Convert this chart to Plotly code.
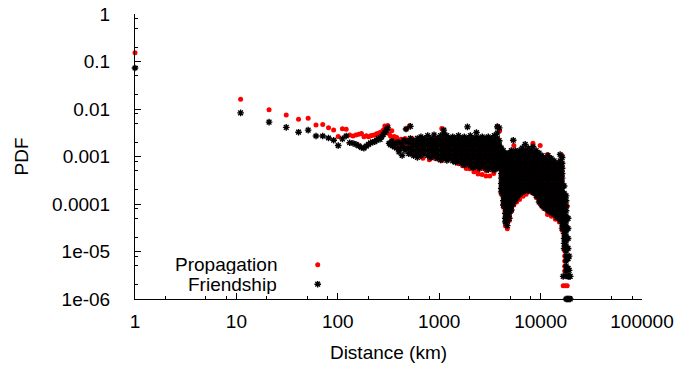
import plotly.graph_objects as go

# ---------------- data ----------------
# sparse region: one point per 10 km bin
prop_km = [1, 11, 21, 31, 41, 51, 61, 71, 81, 91, 101, 111, 121, 131, 141, 151, 161, 171, 181, 191,
           201, 211, 221, 231, 241, 251, 261, 271, 281, 291, 301, 311, 321, 331, 341, 351, 361, 371,
           381, 391, 401, 411, 421, 431, 441, 451, 461, 471, 481, 491, 501, 511]
prop_pdf = [0.153, 0.0161, 9.6e-3, 7.5e-3, 6.1e-3, 6.4e-3, 4.6e-3, 4.7e-3, 4.05e-3, 3.6e-3, 2.65e-3,
            3.85e-3, 3.75e-3, 2.85e-3, 2.7e-3, 2.85e-3, 2.95e-3, 3.05e-3, 2.6e-3, 2.75e-3, 2.6e-3,
            2.75e-3, 2.8e-3, 2.85e-3, 3.0e-3, 3.05e-3, 3.2e-3, 3.3e-3, 3.6e-3, 4.4e-3, 3.9e-3, 4.5e-3,
            3.0e-3, 2.7e-3, 3.5e-3, 2.4e-3, 2.65e-3, 2.2e-3, 2.5e-3, 2.0e-3, 2.1e-3, 1.8e-3, 2.3e-3,
            1.9e-3, 2.0e-3, 1.7e-3, 2.4e-3, 3.75e-3, 2.2e-3, 1.9e-3, 2.1e-3, 4.45e-3]

friend_km = [1, 11, 21, 31, 41, 51, 61, 71, 81, 91, 101, 111, 121, 131, 141, 151, 161, 171, 181, 191,
             201, 211, 221, 231, 241, 251, 261, 271, 281, 291, 301, 311, 321, 331, 341, 351, 361, 371,
             381, 391, 401, 411, 421, 431, 441, 451, 461, 471, 481, 491, 501]
friend_pdf = [0.073, 8.3e-3, 5.3e-3, 4.1e-3, 3.25e-3, 3.6e-3, 2.7e-3, 2.7e-3, 2.45e-3, 2.2e-3, 1.7e-3,
              2.35e-3, 2.7e-3, 1.95e-3, 1.9e-3, 1.8e-3, 1.68e-3, 1.55e-3, 1.5e-3, 1.65e-3, 1.8e-3,
              1.95e-3, 2.0e-3, 2.05e-3, 2.2e-3, 2.4e-3, 2.3e-3, 2.6e-3, 2.9e-3, 3.2e-3, 3.6e-3, 4.0e-3,
              1.9e-3, 1.75e-3, 2.1e-3, 1.7e-3, 1.6e-3, 1.85e-3, 1.5e-3, 2.0e-3, 1.25e-3, 1.45e-3,
              1.9e-3, 1.05e-3, 1.6e-3, 2.2e-3, 1.35e-3, 3.8e-3, 2.0e-3, 1.5e-3, 1.15e-3]

# dense region: for each distance, the spread of PDF values seen there
prop_band_km = [540, 600, 690, 800, 920, 1060, 1150, 1230, 1400, 1550, 1700, 1850, 2000, 2200, 2420,
                2650, 2900, 3150, 3450, 3750, 3950, 4100, 4300, 4500, 4700, 4920, 5150, 5450, 5800,
                6200, 6700, 7200, 7800, 8400, 9100, 9900, 10700, 11700, 12800, 14000, 15300, 16300,
                17300, 18300, 16700, 17450]
prop_band_pdf = [
    [2.4e-3, 1.9e-3, 1.5e-3, 1.18e-3],
    [2.15e-3, 1.7e-3, 1.33e-3, 1.04e-3],
    [2.4e-3, 1.9e-3, 1.5e-3, 1.18e-3, 9.2e-4],
    [2.15e-3, 1.7e-3, 1.33e-3, 1.04e-3, 8.5e-4],
    [2.4e-3, 1.9e-3, 1.5e-3, 1.18e-3, 9.0e-4],
    [3.9e-3, 2.15e-3, 1.7e-3, 1.33e-3, 1.04e-3, 8.1e-4],
    [1.5e-3, 1.18e-3, 9.2e-4],
    [2.4e-3, 1.9e-3, 1.5e-3, 1.18e-3, 8.6e-4],
    [2.15e-3, 1.7e-3, 1.33e-3, 1.04e-3, 8.1e-4],
    [2.4e-3, 1.9e-3, 1.5e-3, 1.18e-3, 8.5e-4, 7.0e-4],
    [2.15e-3, 1.7e-3, 1.33e-3, 1.04e-3, 8.1e-4, 6.35e-4],
    [2.4e-3, 1.9e-3, 1.5e-3, 1.18e-3, 9.2e-4, 7.2e-4, 5.6e-4],
    [2.15e-3, 1.7e-3, 1.33e-3, 1.04e-3, 8.1e-4, 6.35e-4, 5.5e-4],
    [2.4e-3, 1.9e-3, 1.5e-3, 1.18e-3, 9.2e-4, 7.2e-4, 5.65e-4, 4.8e-4],
    [2.15e-3, 1.7e-3, 1.33e-3, 1.04e-3, 8.1e-4, 6.35e-4, 5.0e-4, 4.3e-4],
    [2.4e-3, 1.9e-3, 1.5e-3, 1.18e-3, 9.2e-4, 7.2e-4, 5.65e-4, 4.2e-4],
    [2.15e-3, 1.7e-3, 1.33e-3, 1.04e-3, 8.1e-4, 6.35e-4, 5.0e-4, 3.9e-4],
    [2.4e-3, 1.9e-3, 1.5e-3, 1.18e-3, 9.2e-4, 7.2e-4, 5.65e-4, 3.9e-4],
    [2.15e-3, 1.7e-3, 1.33e-3, 1.04e-3, 8.1e-4, 6.35e-4, 5.0e-4, 4.4e-4],
    [4.4e-3, 2.4e-3, 1.9e-3, 1.5e-3, 1.18e-3, 9.2e-4, 7.2e-4, 5.6e-4],
    [3.5e-3, 1.7e-3, 1.33e-3, 1.04e-3, 8.1e-4],
    [1.33e-3, 1.04e-3, 8.1e-4, 6.35e-4, 5.0e-4, 3.9e-4, 3.1e-4, 2.4e-4, 1.9e-4, 1.6e-4],
    [1.18e-3, 9.2e-4, 7.2e-4, 5.65e-4, 4.4e-4, 3.5e-4, 2.7e-4, 2.15e-4, 1.68e-4, 1.32e-4, 1.03e-4, 8.5e-5],
    [1.04e-3, 8.1e-4, 6.35e-4, 5.0e-4, 3.9e-4, 3.1e-4, 2.4e-4, 1.9e-4, 1.48e-4, 1.17e-4, 9.1e-5, 7.2e-5,
     5.6e-5, 4.4e-5, 3.5e-5],
    [9.2e-4, 7.2e-4, 5.65e-4, 4.4e-4, 3.5e-4, 2.7e-4, 2.15e-4, 1.68e-4, 1.32e-4, 1.03e-4, 8.1e-5, 6.4e-5,
     5.0e-5, 3.9e-5, 3.0e-5],
    [1.04e-3, 8.1e-4, 6.35e-4, 5.0e-4, 3.9e-4, 3.1e-4, 2.4e-4, 1.9e-4, 1.48e-4, 1.17e-4, 9.1e-5, 7.2e-5,
     5.6e-5, 4.5e-5],
    [1.18e-3, 9.2e-4, 7.2e-4, 5.65e-4, 4.4e-4, 3.5e-4, 2.7e-4, 2.15e-4, 1.68e-4, 1.32e-4, 1.03e-4, 8.1e-5, 7.0e-5],
    [1.7e-3, 1.04e-3, 8.1e-4, 6.35e-4, 5.0e-4, 3.9e-4, 3.1e-4, 2.4e-4, 1.9e-4, 1.48e-4, 1.17e-4, 9.5e-5],
    [1.18e-3, 9.2e-4, 7.2e-4, 5.65e-4, 4.4e-4, 3.5e-4, 2.7e-4, 2.15e-4, 1.68e-4, 1.32e-4, 1.1e-4],
    [1.04e-3, 8.1e-4, 6.35e-4, 5.0e-4, 3.9e-4, 3.1e-4, 2.4e-4, 1.9e-4, 1.48e-4, 1.25e-4],
    [1.18e-3, 9.2e-4, 7.2e-4, 5.65e-4, 4.4e-4, 3.5e-4, 2.7e-4, 2.15e-4, 1.7e-4, 1.45e-4],
    [1.04e-3, 8.1e-4, 6.35e-4, 5.0e-4, 3.9e-4, 3.1e-4, 2.4e-4, 1.9e-4, 1.6e-4],
    [1.18e-3, 9.2e-4, 7.2e-4, 5.65e-4, 4.4e-4, 3.5e-4, 2.7e-4, 2.15e-4, 1.8e-4],
    [1.9e-3, 1.04e-3, 8.1e-4, 6.35e-4, 5.0e-4, 3.9e-4, 3.1e-4, 2.4e-4, 1.9e-4, 1.7e-4],
    [1.18e-3, 9.2e-4, 7.2e-4, 5.65e-4, 4.4e-4, 3.5e-4, 2.7e-4, 2.15e-4, 1.68e-4, 1.35e-4],
    [1.7e-3, 8.1e-4, 6.35e-4, 5.0e-4, 3.9e-4, 3.1e-4, 2.4e-4, 1.9e-4, 1.48e-4, 1.17e-4, 1.0e-4],
    [9.2e-4, 7.2e-4, 5.65e-4, 4.4e-4, 3.5e-4, 2.7e-4, 2.15e-4, 1.68e-4, 1.32e-4, 1.03e-4, 8.1e-5],
    [1.1e-3, 8.1e-4, 6.35e-4, 5.0e-4, 3.9e-4, 3.1e-4, 2.4e-4, 1.9e-4, 1.48e-4, 1.17e-4, 9.1e-5, 7.2e-5, 6.0e-5],
    [7.2e-4, 5.65e-4, 4.4e-4, 3.5e-4, 2.7e-4, 2.15e-4, 1.68e-4, 1.32e-4, 1.03e-4, 8.1e-5, 6.4e-5, 5.5e-5],
    [6.35e-4, 5.0e-4, 3.9e-4, 3.1e-4, 2.4e-4, 1.9e-4, 1.48e-4, 1.17e-4, 9.1e-5, 7.2e-5, 5.6e-5, 4.8e-5],
    [7.2e-4, 5.65e-4, 4.4e-4, 3.5e-4, 2.7e-4, 2.15e-4, 1.68e-4, 1.32e-4, 1.03e-4, 8.1e-5, 6.4e-5, 5.0e-5, 4.2e-5],
    [1.05e-3, 6.35e-4, 5.0e-4, 3.9e-4, 3.1e-4, 2.4e-4, 1.9e-4, 1.48e-4, 1.17e-4, 9.1e-5, 7.2e-5, 5.6e-5,
     4.4e-5, 3.5e-5, 2.8e-5],
    [1.5e-4, 1.17e-4, 9.1e-5, 7.2e-5, 5.6e-5, 4.4e-5, 3.45e-5, 2.7e-5, 2.1e-5, 1.67e-5, 1.3e-5, 1.03e-5,
     8.0e-6, 6.3e-6, 4.9e-6, 3.9e-6],
    [9.0e-5, 5.0e-5, 3.05e-5, 1.88e-5, 1.16e-5, 7.1e-6, 4.4e-6, 1.9e-6],
    [1.9e-6],
    [1.9e-6],
]

friend_band_km = [520, 560, 610, 660, 715, 770, 830, 890, 960, 1030, 1110, 1190, 1270, 1360, 1450,
                  1550, 1660, 1770, 1900, 2030, 2170, 2330, 2490, 2660, 2850, 3050, 3270, 3490, 3740,
                  3910, 4090, 4290, 4480, 4690, 4910, 5140, 5375, 5620, 5890, 6160, 6590, 7050, 7550,
                  8080, 8420, 9040, 9660, 10350, 11080, 11860, 12700, 13590, 14550, 15580, 16300,
                  17060, 17850, 18680, 19110, 16700, 18300, 19600]
friend_band_pdf = [
    [4.3e-3, 2.4e-3, 1.9e-3, 1.5e-3, 1.18e-3],
    [2.15e-3, 1.7e-3, 1.33e-3, 1.04e-3],
    [2.4e-3, 1.9e-3, 1.5e-3, 1.18e-3, 9.6e-4],
    [2.6e-3, 2.15e-3, 1.7e-3, 1.33e-3, 1.04e-3],
    [2.4e-3, 1.9e-3, 1.5e-3, 1.18e-3],
    [2.75e-3, 2.15e-3, 1.7e-3, 1.33e-3, 1.04e-3],
    [2.4e-3, 1.9e-3, 1.5e-3, 1.18e-3, 9.5e-4],
    [2.85e-3, 2.15e-3, 1.7e-3, 1.33e-3, 1.04e-3],
    [2.4e-3, 1.9e-3, 1.5e-3, 1.18e-3, 9.2e-4],
    [2.75e-3, 2.15e-3, 1.7e-3, 1.33e-3, 1.04e-3, 8.5e-4],
    [3.6e-3, 3.0e-3, 2.4e-3, 1.9e-3, 1.5e-3, 1.18e-3, 9.2e-4],
    [2.75e-3, 2.15e-3, 1.7e-3, 1.33e-3, 1.04e-3, 8.3e-4],
    [2.4e-3, 1.9e-3, 1.5e-3, 1.18e-3, 9.2e-4],
    [2.6e-3, 2.15e-3, 1.7e-3, 1.33e-3, 1.04e-3, 8.1e-4],
    [2.4e-3, 1.9e-3, 1.5e-3, 1.18e-3, 9.2e-4, 7.6e-4],
    [2.75e-3, 2.15e-3, 1.7e-3, 1.33e-3, 1.04e-3, 8.1e-4],
    [2.4e-3, 1.9e-3, 1.5e-3, 1.18e-3, 9.2e-4, 7.2e-4],
    [2.6e-3, 2.15e-3, 1.7e-3, 1.33e-3, 1.04e-3, 8.1e-4, 6.6e-4],
    [4.2e-3, 2.4e-3, 1.9e-3, 1.5e-3, 1.18e-3, 9.2e-4, 7.2e-4],
    [2.75e-3, 2.15e-3, 1.7e-3, 1.33e-3, 1.04e-3, 8.1e-4, 6.35e-4],
    [2.4e-3, 1.9e-3, 1.5e-3, 1.18e-3, 9.2e-4, 7.2e-4, 5.8e-4],
    [3.2e-3, 2.6e-3, 2.15e-3, 1.7e-3, 1.33e-3, 1.04e-3, 8.1e-4, 6.35e-4],
    [2.4e-3, 1.9e-3, 1.5e-3, 1.18e-3, 9.2e-4, 7.2e-4, 5.65e-4],
    [2.6e-3, 2.15e-3, 1.7e-3, 1.33e-3, 1.04e-3, 8.1e-4, 6.35e-4],
    [2.4e-3, 1.9e-3, 1.5e-3, 1.18e-3, 9.2e-4, 7.2e-4, 5.65e-4],
    [2.6e-3, 2.15e-3, 1.7e-3, 1.33e-3, 1.04e-3, 8.1e-4, 6.35e-4, 5.3e-4],
    [2.4e-3, 1.9e-3, 1.5e-3, 1.18e-3, 9.2e-4, 7.2e-4, 5.65e-4],
    [2.75e-3, 2.15e-3, 1.7e-3, 1.33e-3, 1.04e-3, 8.1e-4, 6.35e-4, 5.2e-4],
    [4.2e-3, 3.1e-3, 2.4e-3, 1.9e-3, 1.5e-3, 1.18e-3, 9.2e-4, 7.2e-4, 5.65e-4],
    [4.0e-3, 2.15e-3, 1.7e-3, 1.33e-3, 1.04e-3, 8.1e-4, 6.35e-4],
    [1.5e-3, 1.18e-3, 9.2e-4, 7.2e-4, 5.65e-4, 4.4e-4, 3.5e-4, 2.7e-4, 2.15e-4, 1.8e-4],
    [1.33e-3, 1.04e-3, 8.1e-4, 6.35e-4, 5.0e-4, 3.9e-4, 3.1e-4, 2.4e-4, 1.9e-4, 1.48e-4, 1.17e-4, 9.5e-5],
    [1.18e-3, 9.2e-4, 7.2e-4, 5.65e-4, 4.4e-4, 3.5e-4, 2.7e-4, 2.15e-4, 1.68e-4, 1.32e-4, 1.03e-4, 8.1e-5,
     6.4e-5, 5.0e-5, 4.2e-5],
    [1.04e-3, 8.1e-4, 6.35e-4, 5.0e-4, 3.9e-4, 3.1e-4, 2.4e-4, 1.9e-4, 1.48e-4, 1.17e-4, 9.1e-5, 7.2e-5,
     5.6e-5, 4.4e-5, 3.5e-5],
    [1.18e-3, 9.2e-4, 7.2e-4, 5.65e-4, 4.4e-4, 3.5e-4, 2.7e-4, 2.15e-4, 1.68e-4, 1.32e-4, 1.03e-4, 8.1e-5,
     6.4e-5, 5.0e-5],
    [1.33e-3, 1.04e-3, 8.1e-4, 6.35e-4, 5.0e-4, 3.9e-4, 3.1e-4, 2.4e-4, 1.9e-4, 1.48e-4, 1.17e-4, 9.1e-5, 7.5e-5],
    [2.2e-3, 1.18e-3, 9.2e-4, 7.2e-4, 5.65e-4, 4.4e-4, 3.5e-4, 2.7e-4, 2.15e-4, 1.68e-4, 1.32e-4, 1.03e-4],
    [1.33e-3, 1.04e-3, 8.1e-4, 6.35e-4, 5.0e-4, 3.9e-4, 3.1e-4, 2.4e-4, 1.9e-4, 1.48e-4, 1.2e-4],
    [1.18e-3, 9.2e-4, 7.2e-4, 5.65e-4, 4.4e-4, 3.5e-4, 2.7e-4, 2.15e-4, 1.68e-4, 1.4e-4],
    [1.33e-3, 1.04e-3, 8.1e-4, 6.35e-4, 5.0e-4, 3.9e-4, 3.1e-4, 2.4e-4, 1.9e-4, 1.6e-4],
    [1.5e-3, 1.18e-3, 9.2e-4, 7.2e-4, 5.65e-4, 4.4e-4, 3.5e-4, 2.7e-4, 2.15e-4, 1.75e-4],
    [1.8e-3, 1.33e-3, 1.04e-3, 8.1e-4, 6.35e-4, 5.0e-4, 3.9e-4, 3.1e-4, 2.4e-4, 1.9e-4],
    [1.5e-3, 1.18e-3, 9.2e-4, 7.2e-4, 5.65e-4, 4.4e-4, 3.5e-4, 2.7e-4, 2.15e-4, 1.9e-4],
    [1.33e-3, 1.04e-3, 8.1e-4, 6.35e-4, 5.0e-4, 3.9e-4, 3.1e-4, 2.4e-4, 1.95e-4],
    [1.6e-3, 1.18e-3, 9.2e-4, 7.2e-4, 5.65e-4, 4.4e-4, 3.5e-4, 2.7e-4, 2.15e-4, 1.75e-4],
    [1.33e-3, 1.04e-3, 8.1e-4, 6.35e-4, 5.0e-4, 3.9e-4, 3.1e-4, 2.4e-4, 1.9e-4, 1.5e-4],
    [1.18e-3, 9.2e-4, 7.2e-4, 5.65e-4, 4.4e-4, 3.5e-4, 2.7e-4, 2.15e-4, 1.68e-4, 1.32e-4, 1.1e-4],
    [1.04e-3, 8.1e-4, 6.35e-4, 5.0e-4, 3.9e-4, 3.1e-4, 2.4e-4, 1.9e-4, 1.48e-4, 1.17e-4, 9.1e-5],
    [9.2e-4, 7.2e-4, 5.65e-4, 4.4e-4, 3.5e-4, 2.7e-4, 2.15e-4, 1.68e-4, 1.32e-4, 1.03e-4, 8.1e-5],
    [1.04e-3, 8.1e-4, 6.35e-4, 5.0e-4, 3.9e-4, 3.1e-4, 2.4e-4, 1.9e-4, 1.48e-4, 1.17e-4, 9.1e-5, 7.2e-5],
    [9.2e-4, 7.2e-4, 5.65e-4, 4.4e-4, 3.5e-4, 2.7e-4, 2.15e-4, 1.68e-4, 1.32e-4, 1.03e-4, 8.1e-5, 6.6e-5],
    [8.1e-4, 6.35e-4, 5.0e-4, 3.9e-4, 3.1e-4, 2.4e-4, 1.9e-4, 1.48e-4, 1.17e-4, 9.1e-5, 7.2e-5, 6.0e-5],
    [7.2e-4, 5.65e-4, 4.4e-4, 3.5e-4, 2.7e-4, 2.15e-4, 1.68e-4, 1.32e-4, 1.03e-4, 8.1e-5, 6.4e-5, 5.2e-5],
    [1.1e-3, 8.1e-4, 6.35e-4, 5.0e-4, 3.9e-4, 3.1e-4, 2.4e-4, 1.9e-4, 1.48e-4, 1.17e-4, 9.1e-5, 7.2e-5,
     5.6e-5, 4.6e-5],
    [9.5e-4, 7.2e-4, 5.65e-4, 4.4e-4, 3.5e-4, 2.7e-4, 2.15e-4, 1.68e-4, 1.32e-4, 1.03e-4, 8.1e-5, 6.4e-5,
     5.0e-5, 3.9e-5, 3.1e-5],
    [2.4e-4, 1.68e-4, 1.32e-4, 1.03e-4, 8.1e-5, 6.4e-5, 5.0e-5, 3.9e-5, 3.05e-5, 2.4e-5, 1.88e-5,
     1.48e-5, 1.16e-5],
    [1.48e-4, 1.17e-4, 9.1e-5, 7.2e-5, 5.6e-5, 4.4e-5, 3.45e-5, 2.7e-5, 2.1e-5, 1.67e-5, 1.3e-5, 1.03e-5,
     8.0e-6, 6.3e-6, 4.9e-6, 3.9e-6, 3.05e-6, 1.0e-6],
    [5.0e-5, 3.05e-5, 1.88e-5, 1.16e-5, 7.1e-6, 4.4e-6, 3.0e-6, 1.0e-6],
    [8.0e-6, 4.0e-6, 3.0e-6, 1.0e-6],
    [3.0e-6],
    [1.0e-6],
    [3.0e-6, 1.0e-6],
]

x_ticks = [1, 10, 100, 1000, 10000, 100000]
x_ticktext = ["1", "10", "100", "1000", "10000", "100000"]
y_ticks = [1, 0.1, 0.01, 0.001, 0.0001, 1e-05, 1e-06]
y_ticktext = ["1", "0.1", "0.01", "0.001", "0.0001", "1e-05", "1e-06"]
minor_x = [m * 10 ** k for k in range(0, 5) for m in (2, 5, 8)]
minor_y = [m * 10 ** k for k in range(-6, 0) for m in (2, 5, 8)]

series_names = ["Propagation", "Friendship"]

# ---------------- build ----------------
def expand(km, pdf, band_km, band_pdf):
    xs, ys = list(km), list(pdf)
    for d, vals in zip(band_km, band_pdf):
        for v in vals:
            xs.append(d)
            ys.append(v)
    return xs, ys

px_, py_ = expand(prop_km, prop_pdf, prop_band_km, prop_band_pdf)
fx_, fy_ = expand(friend_km, friend_pdf, friend_band_km, friend_band_pdf)

RED = "#ff0000"
BLACK = "#000000"
FONT = "Liberation Sans, Arial, Helvetica, sans-serif"
FS = 19

red_marker = dict(symbol="circle", size=5, color=RED, line=dict(width=0))
black_marker = dict(symbol="asterisk-open", size=5.5, color=BLACK, line=dict(width=1.4, color=BLACK))

fig = go.Figure()
fig.add_trace(go.Scatter(x=px_, y=py_, mode="markers", marker=red_marker,
                         name=series_names[0], showlegend=False, cliponaxis=False))
fig.add_trace(go.Scatter(x=fx_, y=fy_, mode="markers", marker=black_marker,
                         name=series_names[1], showlegend=False, cliponaxis=False))

# legend keys (gnuplot style: text then symbol), on an overlay paper-like axis
legend_key_x = 0.3604
legend_rows_y = [0.120, 0.052]
fig.add_trace(go.Scatter(x=[legend_key_x], y=[legend_rows_y[0]], xaxis="x2", yaxis="y2",
                         mode="markers", marker=red_marker, showlegend=False, cliponaxis=False,
                         hoverinfo="skip"))
fig.add_trace(go.Scatter(x=[legend_key_x], y=[legend_rows_y[1]], xaxis="x2", yaxis="y2",
                         mode="markers", marker=black_marker, showlegend=False, cliponaxis=False,
                         hoverinfo="skip"))

for name, yy in zip(series_names, legend_rows_y):
    fig.add_annotation(text=name, x=0.282, y=yy, xref="paper", yref="paper",
                       xanchor="right", yanchor="middle", showarrow=False,
                       height=19, valign="middle", borderpad=0,
                       font=dict(family=FONT, size=FS, color=BLACK))

axis_common = dict(
    showline=True, linecolor=BLACK, linewidth=1, mirror=False,
    ticks="inside", ticklen=6, tickwidth=1, tickcolor=BLACK,
    showgrid=False, zeroline=False, automargin=False, ticklabeloverflow="allow",
    tickfont=dict(family=FONT, size=FS, color=BLACK),
)

fig.update_layout(
    width=674, height=365,
    margin=dict(l=135, r=32, t=14, b=66, pad=0),
    paper_bgcolor="white", plot_bgcolor="white",
    font=dict(family=FONT, size=FS, color=BLACK),
    xaxis=dict(type="log", range=[0, 5], tickmode="array", tickvals=x_ticks, ticktext=x_ticktext,
               ticklabelstandoff=5,
               minor=dict(tickmode="array", tickvals=minor_x, ticks="inside", ticklen=3,
                          tickwidth=1, tickcolor=BLACK, showgrid=False),
               title=dict(text="Distance (km)", font=dict(family=FONT, size=FS, color=BLACK),
                          standoff=14),
               **axis_common),
    yaxis=dict(type="log", range=[-6, 0], tickmode="array", tickvals=y_ticks, ticktext=y_ticktext,
               ticklabelstandoff=20,
               minor=dict(tickmode="array", tickvals=minor_y, ticks="inside", ticklen=3,
                          tickwidth=1, tickcolor=BLACK, showgrid=False),
               title=dict(text="PDF", font=dict(family=FONT, size=FS, color=BLACK), standoff=18),
               **axis_common),
    xaxis2=dict(range=[0, 1], overlaying="x", anchor="y2", visible=False, domain=[0, 1]),
    yaxis2=dict(range=[0, 1], overlaying="y", anchor="x2", visible=False, domain=[0, 1]),
    showlegend=False,
)

# remove the default 8 px page margin so the 674x365 figure fills the window exactly
fig.write_html("out.html",
               config={"displayModeBar": False},
               post_script="document.body.style.margin='0';document.body.style.overflow='hidden';")
